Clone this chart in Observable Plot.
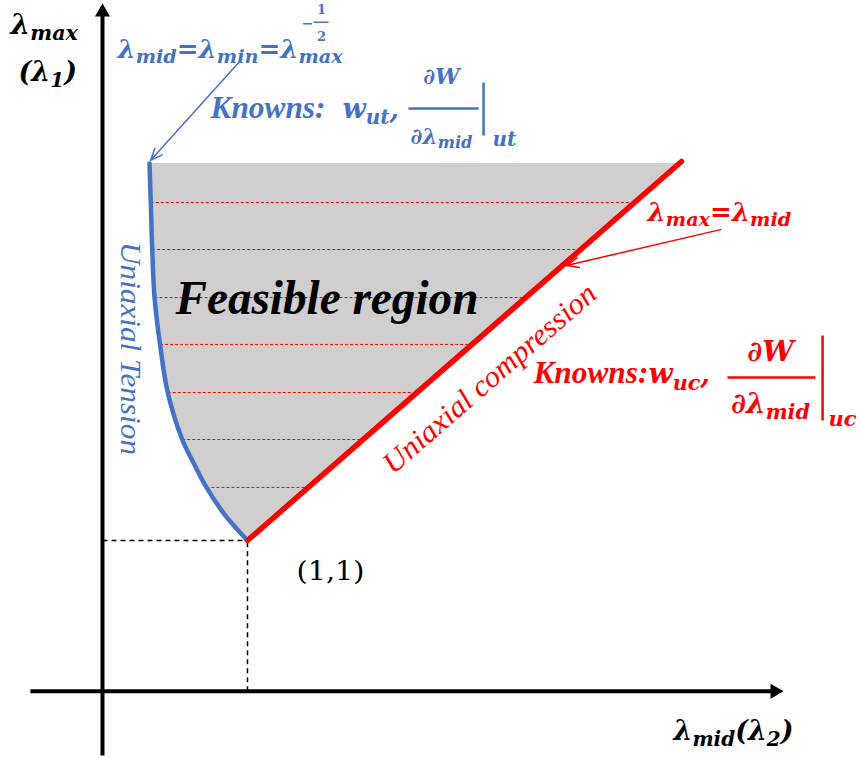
<!DOCTYPE html>
<html><head><meta charset="utf-8">
<script src="https://cdn.jsdelivr.net/npm/d3@7"></script>
<script src="https://cdn.jsdelivr.net/npm/@observablehq/plot@0.6"></script>
<style>html,body{margin:0;padding:0;background:#fff;}</style>
</head><body><div id="chart"></div>
<script>
// ---- data (λ units) ----
// feasible-region boundary at λmax levels
const lambdaMax   = [1.000, 1.179, 1.352, 1.511, 1.670, 1.982, 2.301, 2.612, 2.931, 3.243, 3.502];
const tensionMid  = [1.000, 0.837, 0.717, 0.630, 0.550, 0.450, 0.397, 0.359, 0.343, 0.333, 0.324]; // uniaxial tension boundary
const compressMid = [1.000, 1.213, 1.419, 1.608, 1.798, 2.169, 2.548, 2.919, 3.298, 3.669, 3.977]; // uniaxial compression boundary
// uniaxial compression line
const compressLineMid = [1.000, 3.993];
const compressLineMax = [1.000, 3.515];
// indices of the dashed iso-λmax lines
const hatchIdx = [2, 4, 5, 6, 7, 8, 9];
// reference point (1,1)
const refPoint = {mid: 1, max: 1};
// axes extents
const xAxisExt = [-0.497, 4.640, 4.697];   // start, shaft end, arrow tip (at λmax = 0)
const yAxisExt = [-0.427, 4.500, 4.563];   // start, shaft end, arrow tip (at λmid = 0)

const BLUE = "#4472c4", RED = "#ff0000";
const SERIF = "Liberation Serif";
const MATH = "DejaVu Serif";

const boundary = lambdaMax.map((m, i) => ({lmax: m, ut: tensionMid[i], uc: compressMid[i]}));
const hatch = hatchIdx.map(i => boundary[i]);
const compressLine = compressLineMid.map((m, i) => ({mid: m, max: compressLineMax[i]}));

// ---- annotations ----
const mathStart = [
  {x: -0.634, y: 4.364, text: "λ_{max}", size: 28, color: "#000"},
  {x: -0.579, y: 4.052, text: "(λ_{1})", size: 27, color: "#000"},
  {x: 0.103, y: 4.204, text: "λ_{mid}=λ_{min}=λ_{max}", size: 26, color: BLUE},
  {x: 1.655, y: 3.806, text: "w_{ut},", size: 27, color: BLUE},
  {x: 2.690, y: 3.621, text: "ut", size: 20, color: BLUE},
  {x: 3.759, y: 3.122, text: "λ_{max}=λ_{mid}", size: 26, color: RED},
  {x: 3.766, y: 2.042, text: "w_{uc},", size: 28, color: RED},
  {x: 5.007, y: 1.763, text: "uc", size: 21, color: RED},
  {x: 3.938, y: -0.327, text: "λ_{mid}(λ_{2})", size: 27, color: "#000"}
];
const mathMiddle = [
  {x: 2.338, y: 4.032, text: "∂W", size: 22, color: BLUE},
  {x: 2.338, y: 3.634, text: "∂λ_{mid}", size: 22, color: BLUE},
  {x: 4.607, y: 2.194, text: "∂W", size: 28, color: RED},
  {x: 4.607, y: 1.849, text: "∂λ_{mid}", size: 28, color: RED}
];
const exponentParts = [
  {x: 1.414, y: 4.433, text: "−", size: 14, color: BLUE},
  {x: 1.510, y: 4.524, text: "1", size: 13, color: BLUE},
  {x: 1.510, y: 4.341, text: "2", size: 13, color: BLUE}
];
const fracBars = [
  {x1: 2.110, x2: 2.593, y1: 3.866, y2: 3.866, color: BLUE, w: 2.5},
  {x1: 4.310, x2: 4.917, y1: 2.082, y2: 2.082, color: RED, w: 2.5},
  {x1: 1.455, x2: 1.559, y1: 4.439, y2: 4.439, color: BLUE, w: 1.5},
  {x1: 2.628, x2: 2.628, y1: 4.039, y2: 3.687, color: BLUE, w: 2.5},
  {x1: 4.966, x2: 4.966, y1: 2.360, y2: 1.796, color: RED, w: 2.5}
];
const knowns = [
  {x: 0.745, y: 3.806, text: "Knowns:", color: BLUE},
  {x: 2.972, y: 2.042, text: "Knowns:", color: RED}
];
const arrows = [
  {x1: 0.952, y1: 4.185, x2: 0.331, y2: 3.522, color: BLUE},
  {x1: 4.262, y1: 3.063, x2: 3.200, y2: 2.825, color: RED}
];
// widths (px) that the plain-text labels span in the reference
const labelWidths = {"Feasible region": 303, "Knowns:": 115, "Uniaxial Tension": 213, "Uniaxial compression": 272, "(1,1)": 68};

const chart = Plot.plot({
  width: 860, height: 758, margin: 0,
  x: {domain: [-0.7034, 5.2276], axis: null},
  y: {domain: [-0.4466, 4.5833], axis: null},
  color: {type: "identity"},
  marks: [
    Plot.areaX(boundary, {y: "lmax", x1: "ut", x2: "uc", fill: "#d0cecf", curve: "catmull-rom"}),
    Plot.link(hatch, {x1: "ut", x2: "uc", y1: "lmax", y2: "lmax", stroke: RED, strokeWidth: 1, strokeDasharray: "3,2"}),
    // dashed guides to the axes
    Plot.link([refPoint], {x1: 0, x2: "mid", y1: "max", y2: "max", stroke: "#000", strokeWidth: 1.5, strokeDasharray: "5,4"}),
    Plot.link([refPoint], {x1: "mid", x2: "mid", y1: 0, y2: "max", stroke: "#000", strokeWidth: 1.5, strokeDasharray: "5,4"}),
    // axes
    Plot.link([{a: xAxisExt[0], b: xAxisExt[1]}], {x1: "a", x2: "b", y1: 0, y2: 0, stroke: "#000", strokeWidth: 4}),
    Plot.link([{a: yAxisExt[0], b: yAxisExt[1]}], {x1: 0, x2: 0, y1: "a", y2: "b", stroke: "#000", strokeWidth: 4}),
    Plot.dot([{x: 0, y: yAxisExt[2]}], {x: "x", y: "y", symbol: "triangle", r: 5.6, fill: "#000", dy: 8.7}),
    Plot.dot([{x: xAxisExt[2], y: 0}], {x: "x", y: "y", symbol: "triangle", r: 5.6, fill: "#000", rotate: 90, dx: -8.7}),
    // boundaries
    Plot.line(boundary, {x: "ut", y: "lmax", stroke: BLUE, strokeWidth: 4.5, curve: "catmull-rom"}),
    Plot.line(compressLine, {x: "mid", y: "max", stroke: RED, strokeWidth: 5.5}),
    // annotation arrows
    Plot.arrow(arrows, {x1: "x1", y1: "y1", x2: "x2", y2: "y2", stroke: "color", strokeWidth: 1.5, headLength: 13, headAngle: 45}),
    Plot.link(fracBars, {x1: "x1", x2: "x2", y1: "y1", y2: "y2", stroke: "color", strokeWidth: "w"}),
    // texts
    Plot.text(mathStart, {x: "x", y: "y", text: "text", fontSize: "size", fill: "color", textAnchor: "start", lineAnchor: "bottom",
      fontFamily: MATH, fontWeight: "bold", fontStyle: "italic"}),
    Plot.text(mathMiddle, {x: "x", y: "y", text: "text", fontSize: "size", fill: "color", textAnchor: "middle", lineAnchor: "bottom",
      fontFamily: MATH, fontWeight: "bold", fontStyle: "italic"}),
    Plot.text(exponentParts, {x: "x", y: "y", text: "text", fontSize: "size", fill: "color", textAnchor: "middle", lineAnchor: "middle",
      fontFamily: MATH, fontWeight: "bold"}),
    Plot.text(knowns, {x: "x", y: "y", text: "text", fill: "color", fontSize: 31, textAnchor: "start", lineAnchor: "bottom",
      fontFamily: SERIF, fontWeight: "bold", fontStyle: "italic"}),
    Plot.text([{x: 0.503, y: 2.506}], {x: "x", y: "y", text: ["Feasible region"], fill: "#000", fontSize: 48, textAnchor: "start", lineAnchor: "bottom",
      fontFamily: SERIF, fontWeight: "bold", fontStyle: "italic"}),
    Plot.text([{x: 0.193, y: 2.274}], {x: "x", y: "y", text: ["Uniaxial Tension"], fill: BLUE, fontSize: 29, rotate: 90,
      fontFamily: SERIF, fontStyle: "italic"}),
    Plot.text([{x: 2.669, y: 2.075}], {x: "x", y: "y", text: ["Uniaxial compression"], fill: RED, fontSize: 30, rotate: -41,
      fontFamily: SERIF, fontStyle: "italic"}),
    Plot.text([{x: 1.338, y: 0.735}], {x: "x", y: "y", text: ["(1,1)"], fill: "#000", fontSize: 26, textAnchor: "start", lineAnchor: "bottom",
      fontFamily: MATH})
  ]
});
document.getElementById("chart").appendChild(chart);

chart.querySelectorAll("text").forEach(t => {
  const s = t.textContent;
  // fit plain labels to the width they span in the reference
  if (labelWidths[s]) {
    t.setAttribute("textLength", labelWidths[s]);
    t.setAttribute("lengthAdjust", "spacingAndGlyphs");
    return;
  }
  // turn _{..} / ^{..} markup into real sub/superscript tspans
  if (!/[_^]\{/.test(s)) return;
  const fs = parseFloat(getComputedStyle(t).fontSize);
  const parts = s.split(/([_^]\{[^}]*\})/).filter(p => p);
  t.textContent = "";
  let shift = 0;
  for (const p of parts) {
    const ts = document.createElementNS("http://www.w3.org/2000/svg", "tspan");
    let target = 0, size = fs, txt = p;
    if (p.startsWith("_{")) { target = fs * 0.22; size = fs * 0.74; txt = p.slice(2, -1); }
    else if (p.startsWith("^{")) { target = -fs * 0.4; size = fs * 0.6; txt = p.slice(2, -1); }
    ts.setAttribute("dy", (target - shift).toFixed(2));
    shift = target;
    ts.setAttribute("font-size", size.toFixed(2));
    ts.textContent = txt;
    t.appendChild(ts);
  }
});
</script>
</body></html>
